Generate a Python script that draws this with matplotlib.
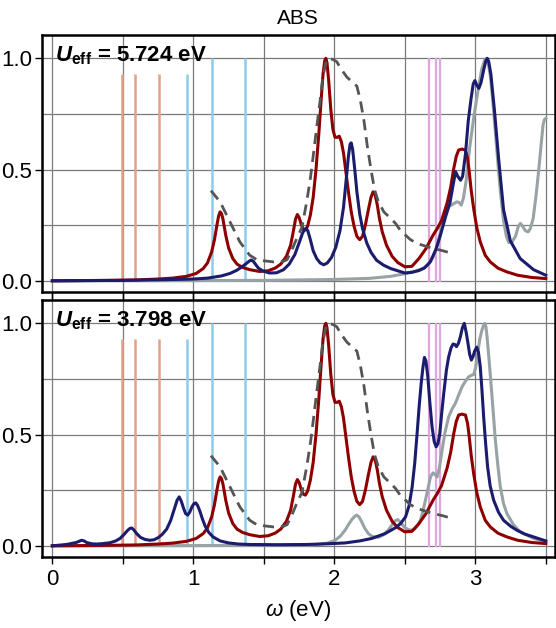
import numpy as np
import matplotlib.pyplot as plt
from matplotlib.ticker import MultipleLocator

plt.rcParams['font.family'] = ['Liberation Sans', 'DejaVu Sans']
plt.rcParams['mathtext.fontset'] = 'custom'
plt.rcParams['mathtext.rm'] = 'Liberation Sans'
plt.rcParams['mathtext.it'] = 'Liberation Sans:italic'
plt.rcParams['mathtext.bf'] = 'Liberation Sans:bold'
plt.rcParams['mathtext.bfit'] = 'Liberation Sans:italic:bold'

# stick transitions
salmon_x = [0.496, 0.585, 0.755]
sky_x = [0.952, 1.131, 1.363]
sky_h = [0.93, 1.0, 1.0]
violet_x = [2.672, 2.721, 2.752]

# red spectrum (same in both panels)
red_x = [0.0, 0.4, 0.6, 0.75, 0.85, 0.95, 1.02, 1.07, 1.10, 1.13, 1.15, 1.17, 1.18, 1.19, 1.20,
         1.21, 1.23, 1.25, 1.28, 1.31, 1.35, 1.40, 1.47, 1.53, 1.58, 1.62, 1.66, 1.69, 1.71, 1.725,
         1.738, 1.75, 1.765, 1.78, 1.795, 1.81, 1.83, 1.85, 1.87, 1.89, 1.905, 1.92, 1.932, 1.94,
         1.948, 1.96, 1.975, 1.99, 2.005, 2.02, 2.035, 2.05, 2.065, 2.08, 2.10, 2.12, 2.14, 2.16,
         2.18, 2.20, 2.22, 2.24, 2.26, 2.275, 2.29, 2.305, 2.32, 2.34, 2.37, 2.41, 2.45, 2.50, 2.55,
         2.60, 2.65, 2.70, 2.73, 2.76, 2.80, 2.825, 2.847, 2.865, 2.882, 2.905, 2.93, 2.945, 2.955,
         2.97, 2.988, 3.01, 3.035, 3.07, 3.106, 3.16, 3.224, 3.30, 3.40, 3.50]
red_y = [0.0, 0.002, 0.004, 0.008, 0.012, 0.02, 0.033, 0.055, 0.08, 0.13, 0.185, 0.26, 0.293, 0.31, 0.302,
         0.278, 0.205, 0.148, 0.10, 0.075, 0.06, 0.05, 0.042, 0.045, 0.057, 0.075, 0.11, 0.16, 0.225, 0.278,
         0.298, 0.285, 0.255, 0.232, 0.228, 0.245, 0.295, 0.375, 0.50, 0.66, 0.80, 0.93, 0.99, 1.0,
         0.98, 0.90, 0.77, 0.68, 0.645, 0.645, 0.65, 0.625, 0.575, 0.50, 0.40, 0.31, 0.245, 0.20,
         0.185, 0.20, 0.25, 0.315, 0.375, 0.40, 0.385, 0.34, 0.28, 0.22, 0.16, 0.11, 0.082, 0.063, 0.065,
         0.10, 0.145, 0.205, 0.235, 0.27, 0.35, 0.42, 0.505, 0.56, 0.588, 0.592, 0.588, 0.55, 0.50,
         0.41, 0.325, 0.24, 0.175, 0.115, 0.085, 0.057, 0.04, 0.025, 0.015, 0.01]

# experimental (dashed, same in both panels)
exp_x = [1.125, 1.19, 1.26, 1.33, 1.40, 1.45, 1.50, 1.567, 1.64, 1.665, 1.70, 1.733, 1.77, 1.804,
         1.83, 1.851, 1.875, 1.898, 1.92, 1.945, 1.955, 1.99, 2.017, 2.05, 2.09, 2.16, 2.185, 2.21,
         2.235, 2.26, 2.285, 2.31, 2.351, 2.40, 2.434, 2.47, 2.505, 2.54, 2.587, 2.65, 2.705, 2.77, 2.835]
exp_y = [0.405, 0.355, 0.265, 0.175, 0.115, 0.095, 0.09, 0.085, 0.088, 0.095, 0.14, 0.19, 0.24, 0.355,
         0.46, 0.565, 0.69, 0.805, 0.92, 0.995, 1.0, 0.995, 0.985, 0.95, 0.915, 0.875, 0.81, 0.72,
         0.60, 0.50, 0.41, 0.36, 0.31, 0.28, 0.258, 0.225, 0.205, 0.185, 0.168, 0.155, 0.145, 0.135, 0.123]

# U_eff = 5.724 eV
navy1_x = [0.0, 0.5, 0.8, 1.0, 1.1, 1.2, 1.26, 1.31, 1.35, 1.38, 1.40, 1.41, 1.425, 1.44, 1.46, 1.49,
           1.54, 1.59, 1.64, 1.68, 1.72, 1.75, 1.775, 1.79, 1.80, 1.812, 1.83, 1.85, 1.875, 1.90, 1.925,
           1.95, 1.98, 2.01, 2.04, 2.065, 2.085, 2.10, 2.112, 2.12, 2.13, 2.145, 2.16, 2.18, 2.20, 2.23,
           2.26, 2.30, 2.35, 2.40, 2.45, 2.50, 2.55, 2.60, 2.64, 2.68, 2.72, 2.75, 2.79, 2.82, 2.845,
           2.86, 2.875, 2.895, 2.91, 2.93, 2.95, 2.97, 2.985, 2.997, 3.01, 3.025, 3.04, 3.06, 3.075,
           3.085, 3.095, 3.11, 3.135, 3.165, 3.20, 3.248, 3.318, 3.413, 3.50]
navy1_y = [0.0, 0.002, 0.005, 0.008, 0.012, 0.022, 0.033, 0.048, 0.065, 0.08, 0.09, 0.093, 0.088, 0.075, 0.058, 0.045,
           0.035, 0.036, 0.05, 0.075, 0.118, 0.17, 0.215, 0.232, 0.235, 0.225, 0.185, 0.135, 0.10, 0.08, 0.072,
           0.08, 0.105, 0.15, 0.225, 0.33, 0.46, 0.56, 0.615, 0.62, 0.59, 0.50, 0.40, 0.30, 0.235, 0.17,
           0.128, 0.092, 0.07, 0.055, 0.045, 0.035, 0.038, 0.046, 0.058, 0.085, 0.14, 0.20, 0.29, 0.35, 0.44,
           0.49, 0.47, 0.452, 0.47, 0.57, 0.72, 0.82, 0.885, 0.90, 0.88, 0.865, 0.89, 0.95, 0.99,
           1.0, 0.985, 0.93, 0.77, 0.55, 0.32, 0.18, 0.10, 0.05, 0.025]
gray1_x = [0.0, 1.0, 1.5, 2.0, 2.25, 2.4, 2.5, 2.58, 2.63, 2.67, 2.70, 2.73, 2.76, 2.79, 2.81, 2.83,
           2.85, 2.87, 2.885, 2.90, 2.915, 2.935, 2.96, 2.99, 3.02, 3.045, 3.065, 3.078, 3.09, 3.107,
           3.125, 3.142, 3.16, 3.178, 3.20, 3.22, 3.237, 3.26, 3.285, 3.305, 3.32, 3.335, 3.355, 3.375,
           3.39, 3.41, 3.43, 3.45, 3.465, 3.48, 3.49, 3.50]
gray1_y = [0.0, 0.001, 0.002, 0.006, 0.011, 0.02, 0.032, 0.045, 0.056, 0.075, 0.105, 0.16, 0.24, 0.31, 0.335, 0.34,
           0.348, 0.355, 0.352, 0.34, 0.37, 0.45, 0.60, 0.74, 0.86, 0.95, 0.99, 1.0, 0.98, 0.92,
           0.80, 0.67, 0.53, 0.40, 0.27, 0.20, 0.172, 0.175, 0.20, 0.245, 0.258, 0.245, 0.225, 0.22,
           0.235, 0.28, 0.38, 0.50, 0.60, 0.70, 0.725, 0.73]

# U_eff = 3.798 eV
navy2_x = [0.0, 0.1, 0.17, 0.208, 0.225, 0.243, 0.28, 0.314, 0.36, 0.41, 0.45, 0.48, 0.51, 0.535, 0.55,
           0.563, 0.575, 0.598, 0.625, 0.66, 0.693, 0.72, 0.752, 0.78, 0.811, 0.84, 0.865, 0.885, 0.90,
           0.915, 0.93, 0.945, 0.96, 0.975, 0.99, 1.005, 1.017, 1.03, 1.047, 1.065, 1.083, 1.11, 1.14,
           1.19, 1.25, 1.32, 1.4, 1.6, 1.8, 1.95, 2.076, 2.18, 2.265, 2.36, 2.43, 2.47, 2.505, 2.53,
           2.552, 2.57, 2.587, 2.602, 2.616, 2.628, 2.639, 2.65, 2.663, 2.678, 2.693, 2.708, 2.722,
           2.735, 2.748, 2.762, 2.776, 2.795, 2.811, 2.828, 2.842, 2.855, 2.866, 2.88, 2.894, 2.908,
           2.922, 2.935, 2.948, 2.96, 2.972, 2.983, 2.995, 3.01, 3.022, 3.035, 3.047, 3.059, 3.073,
           3.087, 3.105, 3.13, 3.165, 3.20, 3.25, 3.295, 3.35, 3.413, 3.50]
navy2_y = [0.0, 0.006, 0.015, 0.025, 0.022, 0.015, 0.009, 0.008, 0.01, 0.014, 0.022, 0.033, 0.052, 0.07, 0.078,
           0.08, 0.074, 0.055, 0.038, 0.028, 0.025, 0.027, 0.037, 0.052, 0.075, 0.115, 0.165, 0.205, 0.22,
           0.20, 0.17, 0.145, 0.138, 0.152, 0.175, 0.19, 0.193, 0.182, 0.155, 0.12, 0.09, 0.06, 0.04,
           0.022, 0.013, 0.008, 0.006, 0.005, 0.006, 0.009, 0.013, 0.022, 0.033, 0.055, 0.08, 0.10, 0.13, 0.18,
           0.265, 0.37, 0.505, 0.63, 0.73, 0.80, 0.847, 0.83, 0.76, 0.64, 0.535, 0.47, 0.445,
           0.46, 0.505, 0.60, 0.685, 0.79, 0.85, 0.89, 0.907, 0.905, 0.895, 0.91, 0.94, 0.98,
           1.0, 0.96, 0.91, 0.86, 0.835, 0.85, 0.875, 0.893, 0.87, 0.805, 0.70, 0.58, 0.46,
           0.355, 0.27, 0.205, 0.15, 0.115, 0.088, 0.07, 0.053, 0.04, 0.022]
gray2_x = [0.0, 1.0, 1.6, 1.84, 1.95, 2.006, 2.04, 2.076, 2.105, 2.124, 2.145, 2.159, 2.175, 2.194, 2.215,
           2.241, 2.27, 2.312, 2.35, 2.382, 2.41, 2.43, 2.45, 2.47, 2.495, 2.52, 2.545, 2.57, 2.595,
           2.611, 2.63, 2.646, 2.665, 2.682, 2.70, 2.715, 2.729, 2.745, 2.764, 2.785, 2.811, 2.835,
           2.858, 2.88, 2.906, 2.93, 2.953, 2.975, 2.988, 3.002, 3.017, 3.032, 3.047, 3.06, 3.067,
           3.075, 3.083, 3.097, 3.111, 3.127, 3.142, 3.16, 3.177, 3.20, 3.224, 3.27, 3.318, 3.413, 3.50]
gray2_y = [0.0, 0.001, 0.003, 0.004, 0.012, 0.025, 0.042, 0.07, 0.10, 0.118, 0.133, 0.138, 0.13, 0.108, 0.08,
           0.055, 0.042, 0.038, 0.05, 0.07, 0.095, 0.112, 0.118, 0.105, 0.085, 0.074, 0.07, 0.075, 0.095,
           0.115, 0.16, 0.205, 0.26, 0.31, 0.328, 0.32, 0.31, 0.35, 0.43, 0.51, 0.58, 0.615,
           0.64, 0.675, 0.715, 0.74, 0.76, 0.767, 0.77, 0.80, 0.865, 0.93, 0.97, 0.995, 1.0,
           0.985, 0.94, 0.84, 0.73, 0.60, 0.475, 0.36, 0.265, 0.19, 0.145, 0.095, 0.063, 0.033, 0.018]

labels = [r'$\mathbfit{U}_{\mathbf{eff}}$ = 5.724 eV', r'$\mathbfit{U}_{\mathbf{eff}}$ = 3.798 eV']
navys = [(navy1_x, navy1_y), (navy2_x, navy2_y)]
grays = [(gray1_x, gray1_y), (gray2_x, gray2_y)]

fig = plt.figure(figsize=(5.56, 6.28), dpi=100)
ax1 = fig.add_axes([0.0752, 0.5355, 0.923, 0.4088])
ax2 = fig.add_axes([0.0752, 0.1135, 0.923, 0.4088])

for i, ax in enumerate([ax1, ax2]):
    ax.vlines(salmon_x, 0, 0.93, color='#E5A088', lw=1.8, zorder=2)
    ax.vlines(sky_x, 0, sky_h, color='#8DCDEA', lw=1.8, zorder=2)
    ax.vlines(violet_x, -0.005, 1.0, color='#DDA6E0', lw=1.6, zorder=2)
    ax.plot(*grays[i], color='#98A3A6', lw=2.2, zorder=3)
    ax.plot(red_x, red_y, color='#8E0000', lw=2.2, zorder=4)
    ax.plot(*navys[i], color='#1C1C6E', lw=2.2, zorder=5)
    ax.plot(exp_x, exp_y, color='#555555', lw=2.0, ls=(0, (4, 2.5)), zorder=6)

    ax.set_xlim(-0.0745, 3.565)
    ax.set_ylim(-0.049, 1.105)
    ax.xaxis.set_major_locator(MultipleLocator(1))
    ax.xaxis.set_minor_locator(MultipleLocator(0.5))
    ax.yaxis.set_major_locator(MultipleLocator(0.5))
    ax.yaxis.set_minor_locator(MultipleLocator(0.25))
    ax.set_yticks([0.0, 0.5, 1.0])
    ax.set_yticklabels(['0.0', '0.5', '1.0'])
    ax.grid(True, which='both', color='#7a7a7a', lw=0.9, zorder=0)
    ax.set_axisbelow(True)
    ax.tick_params(axis='x', which='both', direction='out', length=5, width=1.0, labelsize=16)
    ax.tick_params(axis='y', which='major', direction='out', length=5, width=1.0, labelsize=16, pad=2)
    ax.tick_params(axis='y', which='minor', length=0)
    for s in ax.spines.values():
        s.set_linewidth(1.8)
    ax.text(0.026, 0.918, labels[i], transform=ax.transAxes, fontsize=16,
            fontweight='bold', va='center', ha='left', zorder=10)

ax1.tick_params(axis='x', which='both', labelbottom=False)
ax2.tick_params(axis='x', which='both', top=True)
ax2.set_xlabel(r'$\omega$ (eV)', fontsize=16, labelpad=6)

fig.text(0.5366, 0.971, 'ABS', ha='center', va='center', fontsize=15)

fig.savefig('out.png', dpi=100)
